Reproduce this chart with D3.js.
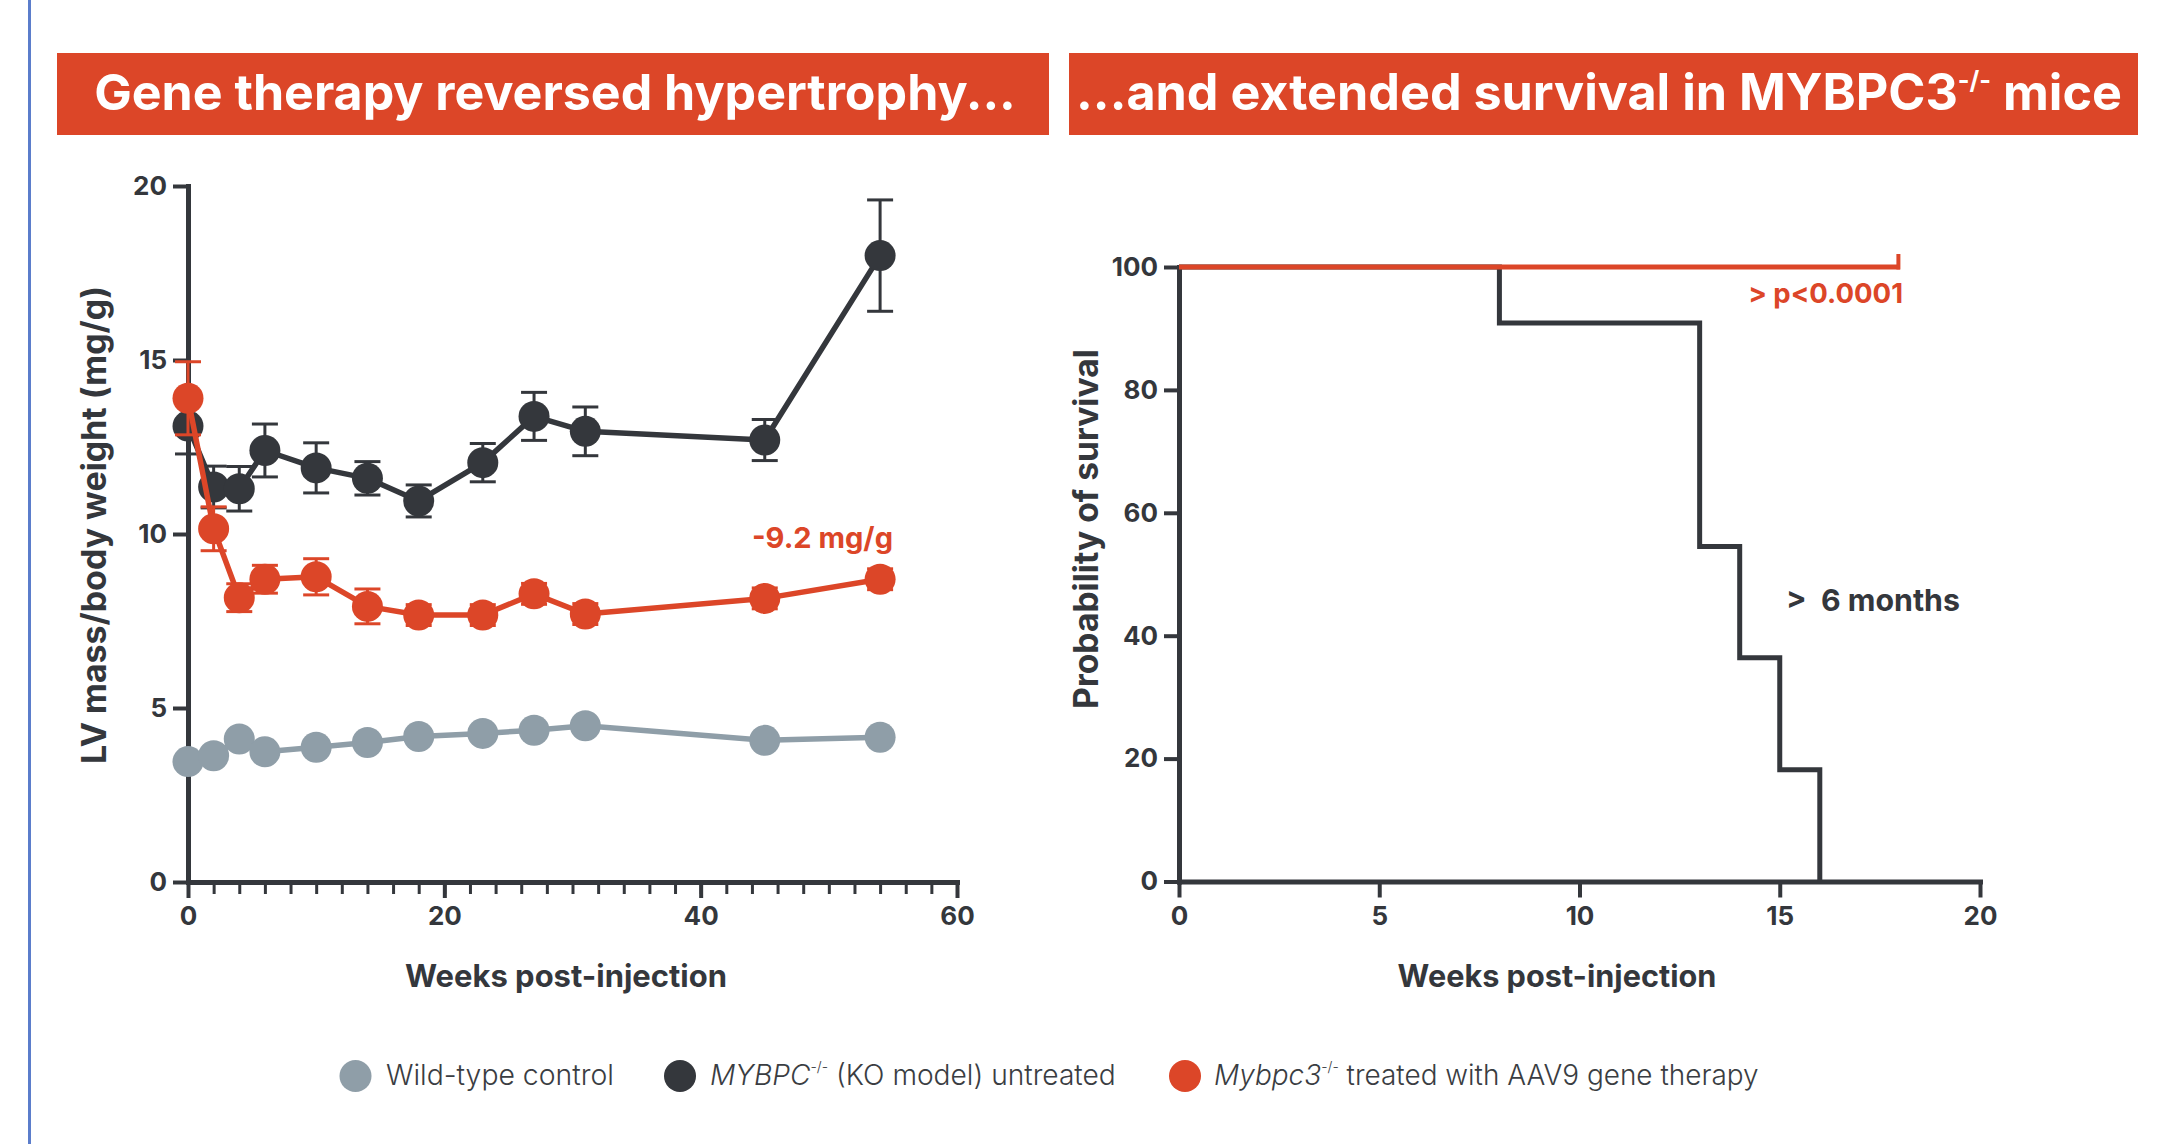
<!DOCTYPE html>
<html><head><meta charset="utf-8">
<script src="https://cdn.jsdelivr.net/npm/d3@7"></script>
<style>
html,body{margin:0;padding:0;background:#fff;}
svg{display:block;}
text{font-family:Inter,"Open Sans","Noto Sans",sans-serif;}
</style></head><body>
<svg id="c" width="2170" height="1144"></svg>
<script>
// ---------- DATA ----------
const weeks = [0, 2, 4, 6, 10, 14, 18, 23, 27, 31, 45, 54];
const wildType = [3.46, 3.63, 4.11, 3.74, 3.87, 4.01, 4.18, 4.27, 4.36, 4.49, 4.07, 4.16];
const koUntreated = [13.1, 11.35, 11.3, 12.4, 11.9, 11.6, 10.95, 12.05, 13.38, 12.95, 12.7, 18.0];
const koErr = [0.8, 0.6, 0.64, 0.76, 0.72, 0.48, 0.46, 0.55, 0.69, 0.7, 0.59, 1.6];
const treated = [13.9, 10.15, 8.17, 8.7, 8.77, 7.92, 7.67, 7.67, 8.28, 7.7, 8.15, 8.7];
const treatedErr = [1.05, 0.63, 0.4, 0.4, 0.52, 0.5, 0.3, 0.3, 0.3, 0.3, 0.3, 0.3];

const kmKoTimes = [0, 8, 13, 14, 15, 16];
const kmKoSurv = [100, 90.9, 54.5, 36.4, 18.2, 0];
const kmTreatedTimes = [0, 18];
const kmTreatedSurv = [100, 100];

const leftYTicks = [0, 5, 10, 15, 20];
const leftXTicks = [0, 20, 40, 60];
const rightYTicks = [0, 20, 40, 60, 80, 100];
const rightXTicks = [0, 5, 10, 15, 20];

// ---------- STYLE ----------
const RED = "#DC4628", DARK = "#34373C", GRAY = "#8F9EA8", BLUE = "#5B7DCB";
const svg = d3.select("#c");

function fit(sel, target){
  const fs = parseFloat(sel.attr("font-size"));
  const w = sel.node().getComputedTextLength();
  if (w > 0) sel.attr("font-size", fs * target / w);
  return sel;
}

// left blue rule
svg.append("rect").attr("x", 28).attr("y", 0).attr("width", 3).attr("height", 1144).attr("fill", BLUE);

// title boxes
svg.append("rect").attr("x", 57).attr("y", 53).attr("width", 992).attr("height", 82).attr("fill", RED);
svg.append("rect").attr("x", 1069).attr("y", 53).attr("width", 1069).attr("height", 82).attr("fill", RED);

const t1 = svg.append("text").attr("x", 555).attr("y", 110).attr("text-anchor", "middle")
  .attr("font-size", 48).attr("font-weight", 700).attr("fill", "#fff")
  .text("Gene therapy reversed hypertrophy...");
fit(t1, 922);

const t2 = svg.append("text").attr("x", 1599).attr("y", 110).attr("text-anchor", "middle")
  .attr("font-size", 48).attr("font-weight", 700).attr("fill", "#fff");
t2.append("tspan").text("...and extended survival in MYBPC3");
t2.append("tspan").attr("font-size", "50%").attr("baseline-shift", "85%").text("-/-");
t2.append("tspan").text(" mice");
fit(t2, 1046);

function styleAxis(g, domainW, tickW, fs){
  g.select(".domain").attr("stroke", DARK).attr("stroke-width", domainW).attr("stroke-linecap", "square");
  g.selectAll(".tick line").attr("stroke", DARK).attr("stroke-width", tickW);
  g.selectAll(".tick text").attr("fill", DARK).attr("font-size", fs).attr("font-weight", 700)
    .attr("font-family", 'Inter,"Open Sans",sans-serif');
}

// ---------- LEFT CHART ----------
const x = d3.scaleLinear().domain([0, 60]).range([188, 957]);
const y = d3.scaleLinear().domain([0, 20]).range([882, 186]);

const gxMinor = svg.append("g").attr("transform", "translate(0,882)")
  .call(d3.axisBottom(x).tickValues(d3.range(0, 61, 2)).tickSize(12).tickSizeOuter(0).tickFormat(""));
styleAxis(gxMinor, 5, 3, 26);
const gx = svg.append("g").attr("transform", "translate(0,882)")
  .call(d3.axisBottom(x).tickValues(leftXTicks).tickSize(16).tickSizeOuter(0).tickPadding(9));
styleAxis(gx, 5, 4, 26);
const gy = svg.append("g").attr("transform", "translate(188,0)")
  .call(d3.axisLeft(y).tickValues(leftYTicks).tickSize(15).tickSizeOuter(0).tickPadding(6));
styleAxis(gy, 5, 4, 26);

const rows = (vals, errs) => weeks.map((w, i) => ({w, v: vals[i], e: errs ? errs[i] : 0}));
const wtRows = rows(wildType), koRows = rows(koUntreated, koErr), trRows = rows(treated, treatedErr);
const line = d3.line().x(d => x(d.w)).y(d => y(d.v));

function drawSeries(data, color, withErr){
  const g = svg.append("g");
  g.append("path").datum(data).attr("d", line).attr("fill", "none")
    .attr("stroke", color).attr("stroke-width", 5.5).attr("stroke-linejoin", "round");
  if (withErr){
    const eb = g.selectAll(".eb").data(data).join("g");
    eb.append("line").attr("x1", d => x(d.w)).attr("x2", d => x(d.w))
      .attr("y1", d => y(d.v - d.e)).attr("y2", d => y(d.v + d.e))
      .attr("stroke", color).attr("stroke-width", 3);
    [-1, 1].forEach(s => {
      eb.append("line").attr("x1", d => x(d.w) - 13).attr("x2", d => x(d.w) + 13)
        .attr("y1", d => y(d.v + s * d.e)).attr("y2", d => y(d.v + s * d.e))
        .attr("stroke", color).attr("stroke-width", 3);
    });
  }
  g.selectAll("circle").data(data).join("circle")
    .attr("cx", d => x(d.w)).attr("cy", d => y(d.v)).attr("r", 15.5).attr("fill", color);
}
drawSeries(wtRows, GRAY, false);
drawSeries(koRows, DARK, true);
drawSeries(trRows, RED, true);

const a1 = svg.append("text").attr("x", 893).attr("y", 548).attr("text-anchor", "end")
  .attr("font-size", 24).attr("font-weight", 700).attr("fill", RED).text("-9.2 mg/g");
fit(a1, 141);

const xt1 = svg.append("text").attr("x", 566).attr("y", 987).attr("text-anchor", "middle")
  .attr("font-size", 27).attr("font-weight", 700).attr("fill", DARK).text("Weeks post-injection");
fit(xt1, 322);
const yt1 = svg.append("text").attr("transform", "translate(106,525) rotate(-90)").attr("text-anchor", "middle")
  .attr("font-size", 30).attr("font-weight", 700).attr("fill", DARK).text("LV mass/body weight (mg/g)");
fit(yt1, 478);

// ---------- RIGHT CHART ----------
const x2 = d3.scaleLinear().domain([0, 20]).range([1179, 1980]);
const y2 = d3.scaleLinear().domain([0, 100]).range([881.5, 267]);

const gx2 = svg.append("g").attr("transform", "translate(0,881.5)")
  .call(d3.axisBottom(x2).tickValues(rightXTicks).tickSize(16).tickSizeOuter(0).tickPadding(9));
styleAxis(gx2, 5, 4, 26);
const gy2 = svg.append("g").attr("transform", "translate(1179,0)")
  .call(d3.axisLeft(y2).tickValues(rightYTicks).tickSize(15).tickSizeOuter(0).tickPadding(6));
styleAxis(gy2, 5, 4, 26);

const kmLine = d3.line().x(d => x2(d.t)).y(d => y2(d.s)).curve(d3.curveStepAfter);
const koKM = kmKoTimes.map((t, i) => ({t, s: kmKoSurv[i]}));
const trKM = kmTreatedTimes.map((t, i) => ({t, s: kmTreatedSurv[i]}));
svg.append("path").datum(koKM).attr("d", kmLine).attr("fill", "none")
  .attr("stroke", DARK).attr("stroke-width", 5);
svg.append("path").datum(trKM).attr("d", kmLine).attr("fill", "none")
  .attr("stroke", RED).attr("stroke-width", 5);
// censor tick at end of treated curve
const lastT = trKM[trKM.length - 1];
svg.append("line").attr("x1", x2(lastT.t) - 1.5).attr("x2", x2(lastT.t) - 1.5)
  .attr("y1", y2(lastT.s) + 2.5).attr("y2", y2(lastT.s) - 13)
  .attr("stroke", RED).attr("stroke-width", 4);

const a2 = svg.append("text").attr("x", 1903).attr("y", 303).attr("text-anchor", "end")
  .attr("font-size", 24).attr("font-weight", 700).attr("fill", RED).text("> p<0.0001");
fit(a2, 155);
const a3 = svg.append("text").attr("x", 1786).attr("y", 611)
  .attr("font-size", 26).attr("font-weight", 700).attr("fill", DARK).text(">\u00a0\u00a06 months");
fit(a3, 174);

const xt2 = svg.append("text").attr("x", 1557).attr("y", 987).attr("text-anchor", "middle")
  .attr("font-size", 27).attr("font-weight", 700).attr("fill", DARK).text("Weeks post-injection");
fit(xt2, 319);
const yt2 = svg.append("text").attr("transform", "translate(1098,529) rotate(-90)").attr("text-anchor", "middle")
  .attr("font-size", 30).attr("font-weight", 700).attr("fill", DARK).text("Probability of survival");
fit(yt2, 360);

// ---------- LEGEND ----------
const legend = [
  {cx: 355.5, tx: 386, w: 228, color: GRAY, parts: [{t: "Wild-type control"}]},
  {cx: 680, tx: 710, w: 406, color: DARK, parts: [{t: "MYBPC", i: true}, {t: "-/-", sup: true}, {t: " (KO model) untreated"}]},
  {cx: 1185, tx: 1214, w: 545, color: RED, parts: [{t: "Mybpc3", i: true}, {t: "-/-", sup: true}, {t: " treated with AAV9 gene therapy"}]}
];
legend.forEach(L => {
  svg.append("circle").attr("cx", L.cx).attr("cy", 1076).attr("r", 16).attr("fill", L.color);
  const t = svg.append("text").attr("x", L.tx).attr("y", 1085).attr("font-size", 26)
    .attr("font-weight", 300).attr("fill", "#3A3D42");
  L.parts.forEach(p => {
    const ts = t.append("tspan").text(p.t);
    if (p.i) ts.attr("font-style", "italic");
    if (p.sup) ts.attr("font-size", "50%").attr("baseline-shift", "90%");
  });
  fit(t, L.w);
});
</script>
</body></html>
